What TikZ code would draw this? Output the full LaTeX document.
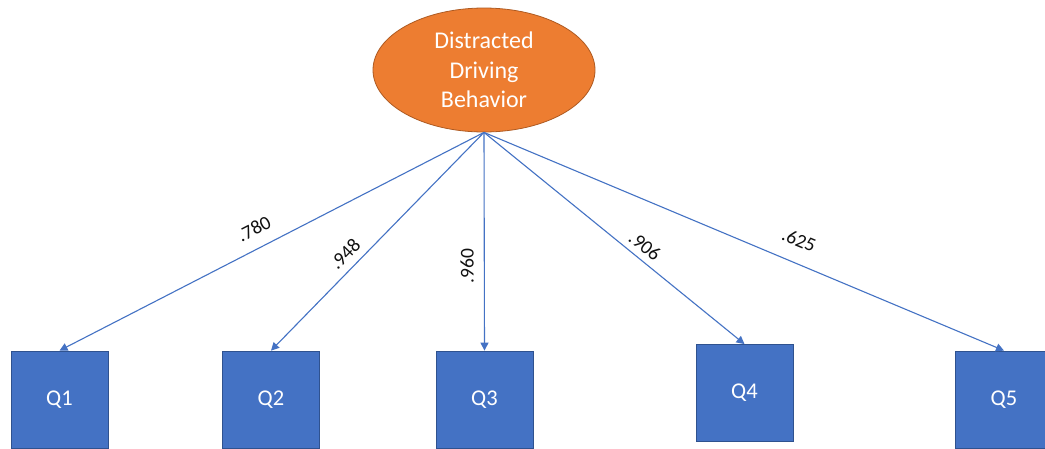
\documentclass[tikz,border=0pt]{standalone}
\usepackage{fontspec}
\setmainfont{Carlito}
\usetikzlibrary{shapes.geometric,arrows.meta}
\definecolor{latentfill}{HTML}{ED7D31}
\definecolor{latentdraw}{HTML}{AE5A21}
\definecolor{itemfill}{HTML}{4472C4}
\definecolor{itemdraw}{HTML}{2F528F}
\definecolor{linkcol}{HTML}{4472C4}
\definecolor{lblcol}{HTML}{111111}
\tikzset{
  latent/.style={ellipse, fill=latentfill, draw=latentdraw, line width=0.8pt,
    minimum width=222pt, minimum height=124pt, inner sep=0pt, align=center,
    text=white, font=\fontsize{24}{29.5}\selectfont},
  itembox/.style={rectangle, fill=itemfill, draw=itemdraw, line width=0.8pt,
    minimum width=97pt, minimum height=97pt, inner sep=0pt,
    text=white, font=\fontsize{22.5}{26}\selectfont},
  link/.style={draw=linkcol, line width=1.1pt, -{Triangle[length=8pt,width=8pt]}},
  lbl/.style={text=lblcol, inner sep=0pt, font=\fontsize{19.5}{21}\selectfont}
}
\begin{document}
\begin{tikzpicture}[x=1pt,y=-1pt]
\clip (0,0) rectangle (1045,448);
\fill[white] (0,0) rectangle (1045,448);
\node[latent] (E) at (484,70) {Distracted\\Driving\\Behavior};
\node[itembox] (Q1) at (59.5,399.5) {Q1};
\node[itembox] (Q2) at (271,399.5) {Q2};
\node[itembox] (Q3) at (484.5,399.5) {Q3};
\node[itembox] (Q4) at (744.5,393) {Q4};
\node[itembox] (Q5) at (1004,399.5) {Q5};
\draw[link] (E.south) -- (Q1.north);
\draw[link] (E.south) -- (Q2.north);
\draw[link] (E.south) -- (Q3.north);
\draw[link] (E.south) -- (Q4.north);
\draw[link] (E.south) -- (Q5.north);
\node[lbl, rotate=27.2] (L1) at (254,229) {.780};
\node[lbl, rotate=45.8] (L2) at (345,254) {.948};
\node[lbl, rotate=90] (L3) at (467,266) {.960};
\node[lbl, rotate=-39.1] (L4) at (645,246) {.906};
\node[lbl, rotate=-22.8] (L5) at (799,240) {.625};
\end{tikzpicture}
\end{document}
